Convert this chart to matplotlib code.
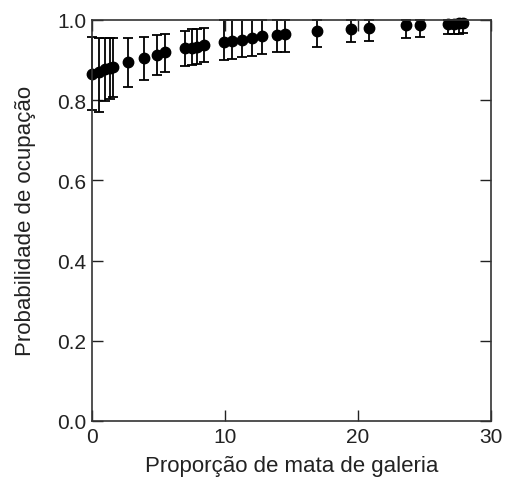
import numpy as np
import matplotlib
matplotlib.use("Agg")
import matplotlib.pyplot as plt

plt.rcParams['font.family'] = ['Liberation Sans', 'DejaVu Sans']

# proportion of gallery forest vs. occupancy probability (with CI)
prop = [0.0, 0.5, 1.0, 1.35, 1.6, 2.7, 3.9, 4.9, 5.5, 7.0, 7.5, 7.9, 8.4,
        9.9, 10.5, 11.25, 12.0, 12.8, 13.9, 14.5, 16.9, 19.5, 20.8,
        23.6, 24.7, 26.8, 27.2, 27.6, 27.9]
prob = [0.865, 0.870, 0.877, 0.880, 0.882, 0.895, 0.905, 0.913, 0.919,
        0.930, 0.930, 0.932, 0.938, 0.945, 0.947, 0.951, 0.954, 0.959,
        0.963, 0.965, 0.971, 0.978, 0.980, 0.986, 0.988, 0.990, 0.990,
        0.991, 0.991]
lower = [0.775, 0.770, 0.797, 0.803, 0.807, 0.832, 0.849, 0.863, 0.870,
         0.885, 0.888, 0.890, 0.894, 0.900, 0.903, 0.907, 0.910, 0.915,
         0.921, 0.921, 0.932, 0.944, 0.948, 0.955, 0.958, 0.965, 0.965,
         0.965, 0.966]
upper = [0.958, 0.956, 0.955, 0.955, 0.955, 0.954, 0.957, 0.961, 0.965,
         0.973, 0.976, 0.978, 0.980, 1.0, 1.0, 1.0, 1.0, 1.0, 1.0, 1.0,
         1.0, 1.0, 1.0, 1.0, 1.0, 1.0, 1.0, 1.0, 1.0]

prob = np.array(prob)
yerr = [prob - np.array(lower), np.array(upper) - prob]

fig = plt.figure(figsize=(5.06, 4.85), dpi=100)
ax = fig.add_axes([0.182, 0.130, 0.788, 0.827])

ax.errorbar(prop, prob, yerr=yerr, fmt='o', color='black', ms=7.5,
            elinewidth=1.3, capsize=3.5, capthick=1.3, clip_on=False)

ax.set_xlim(0, 30)
ax.set_ylim(0, 1.0)
ax.set_xticks([0, 10, 20, 30])
ax.set_yticks([0.0, 0.2, 0.4, 0.6, 0.8, 1.0])
ax.set_yticklabels(['0.0', '0.2', '0.4', '0.6', '0.8', '1.0'])
ax.tick_params(direction='in', length=8, width=1, top=True, right=True,
               labelsize=15, colors='#222222', pad=4)
for s in ax.spines.values():
    s.set_color('#333333')
    s.set_linewidth(1.2)

ax.set_xlabel('Proporção de mata de galeria', fontsize=16, color='#222222', labelpad=7)
ax.set_ylabel('Probabilidade de ocupação', fontsize=16, color='#222222', labelpad=15)

fig.savefig('out.png', dpi=100)
